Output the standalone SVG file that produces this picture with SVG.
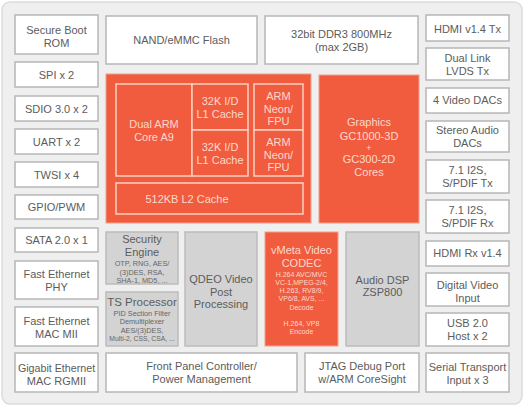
<svg xmlns="http://www.w3.org/2000/svg" width="525" height="408" viewBox="0 0 525 408">
<style>
text{font-family:"Liberation Sans",Arial,sans-serif;font-size:11px;fill:#5c5c5c;text-anchor:middle}
.w{fill:#ffffff;stroke:#b7b7b7;stroke-width:1.5}
.g{fill:#d3d3d3;stroke:#bcbcbc;stroke-width:1.5}
.o{fill:#f15c3e;stroke:#f0a08c;stroke-width:1}
.oi{fill:#f15c3e;stroke:#fbd0c2;stroke-width:1.5}
text.ot{fill:#fcd9cd}
text.s{font-size:7.3px;fill:#666}
text.os{font-size:7px;fill:#fcd9cd}
text.b{font-size:11.5px}
</style>
<rect x="2" y="2" width="520" height="402" rx="8" fill="#efefef" stroke="#dcdcdc" stroke-width="1.5"/>
<g id="connectors"/>
<g id="secure-boot"><rect class="w" x="15" y="15" width="83" height="39"/><text x="56.5" y="33.8">Secure Boot</text><text x="56.5" y="46.6">ROM</text></g>
<g id="spi"><rect class="w" x="15" y="62" width="83" height="25"/><text x="56.5" y="78.5">SPI x 2</text></g>
<g id="sdio"><rect class="w" x="15" y="96" width="83" height="25"/><text x="56.5" y="112.5">SDIO 3.0 x 2</text></g>
<g id="uart"><rect class="w" x="15" y="129" width="83" height="25"/><text x="56.5" y="145.5">UART x 2</text></g>
<g id="twsi"><rect class="w" x="15" y="162" width="83" height="25"/><text x="56.5" y="178.5">TWSI x 4</text></g>
<g id="gpio"><rect class="w" x="15" y="195" width="83" height="24"/><text x="56.5" y="211">GPIO/PWM</text></g>
<g id="sata"><rect class="w" x="15" y="228" width="83" height="24"/><text x="56.5" y="244">SATA 2.0 x 1</text></g>
<g id="fe-phy"><rect class="w" x="15" y="261" width="83" height="38"/><text x="56.5" y="278">Fast Ethernet</text><text x="56.5" y="291">PHY</text></g>
<g id="fe-mac"><rect class="w" x="15" y="307" width="83" height="39"/><text x="56.5" y="324.5">Fast Ethernet</text><text x="56.5" y="337.5">MAC MII</text></g>
<g id="gbe"><rect class="w" x="15" y="353" width="83" height="39"/><text x="56.5" y="371.5" style="font-size:10.7px">Gigabit Ethernet</text><text x="56.5" y="385">MAC RGMII</text></g>
<g id="nand"><rect class="w" x="106" y="16" width="151" height="48"/><text x="181.5" y="44">NAND/eMMC Flash</text></g>
<g id="ddr3"><rect class="w" x="265" y="16" width="153" height="48"/><text x="341.5" y="38">32bit DDR3 800MHz</text><text x="341.5" y="51">(max 2GB)</text></g>
<g id="cpu">
<rect class="o" x="106" y="74" width="205" height="149"/>
<rect class="oi" x="116" y="84" width="76" height="92"/><text class="ot" x="154" y="127.8">Dual ARM</text><text class="ot" x="154" y="140.7">Core A9</text>
<rect class="oi" x="192" y="84" width="56" height="46"/><text class="ot" x="220" y="105">32K I/D</text><text class="ot" x="220" y="118">L1 Cache</text>
<rect class="oi" x="192" y="130" width="56" height="46"/><text class="ot" x="220" y="151.3">32K I/D</text><text class="ot" x="220" y="164.2">L1 Cache</text>
<rect class="oi" x="254" y="84" width="49" height="46"/><text class="ot" x="278.5" y="99.8">ARM</text><text class="ot" x="278.5" y="112.5">Neon/</text><text class="ot" x="278.5" y="125.2">FPU</text>
<rect class="oi" x="254" y="130" width="49" height="46"/><text class="ot" x="278.5" y="145.8">ARM</text><text class="ot" x="278.5" y="158.5">Neon/</text><text class="ot" x="278.5" y="171.2">FPU</text>
<rect class="oi" x="116" y="183" width="187" height="31"/><text class="ot" x="187" y="203">512KB L2 Cache</text>
</g>
<g id="graphics"><rect class="o" x="319" y="75" width="100" height="148"/><text class="ot" x="369" y="126">Graphics</text><text class="ot" x="369" y="139.5">GC1000-3D</text><text class="ot" x="369" y="151" style="font-size:9px">+</text><text class="ot" x="369" y="163.2">GC300-2D</text><text class="ot" x="369" y="176.2">Cores</text></g>
<g id="hdmi-tx"><rect class="w" x="426" y="15" width="83" height="26"/><text x="467.5" y="33">HDMI v1.4 Tx</text></g>
<g id="lvds"><rect class="w" x="426" y="48" width="83" height="32"/><text x="467.5" y="61.8">Dual Link</text><text x="467.5" y="74.6">LVDS Tx</text></g>
<g id="vdac"><rect class="w" x="426" y="88" width="83" height="25"/><text x="467.5" y="104">4 Video DACs</text></g>
<g id="adac"><rect class="w" x="426" y="121" width="83" height="31"/><text x="467.5" y="133.8">Stereo Audio</text><text x="467.5" y="146.6">DACs</text></g>
<g id="spdif-tx"><rect class="w" x="426" y="160" width="83" height="33"/><text x="467.5" y="173.8">7.1 I2S,</text><text x="467.5" y="186.6">S/PDIF Tx</text></g>
<g id="spdif-rx"><rect class="w" x="426" y="200" width="83" height="33"/><text x="467.5" y="213.8">7.1 I2S,</text><text x="467.5" y="226.6">S/PDIF Rx</text></g>
<g id="hdmi-rx"><rect class="w" x="426" y="241" width="83" height="25"/><text x="467.5" y="257">HDMI Rx v1.4</text></g>
<g id="dvi"><rect class="w" x="426" y="273" width="83" height="33"/><text x="467.5" y="288.8">Digital Video</text><text x="467.5" y="301.6">Input</text></g>
<g id="usb"><rect class="w" x="426" y="313" width="83" height="33"/><text x="467.5" y="326.8">USB 2.0</text><text x="467.5" y="339.6">Host x 2</text></g>
<g id="sti"><rect class="w" x="426" y="353" width="83" height="39"/><text x="467.5" y="371">Serial Transport</text><text x="467.5" y="384">Input x 3</text></g>
<g id="security"><rect class="g" x="106" y="232" width="72" height="52"/><text x="142" y="242.8">Security</text><text x="142" y="255.6">Engine</text><text class="s" x="142" y="266">OTP, RNG, AES/</text><text class="s" x="142" y="274.5">(3)DES, RSA,</text><text class="s" x="142" y="283">SHA-1, MD5, ...</text></g>
<g id="ts"><rect class="g" x="106" y="292" width="72" height="54"/><text class="b" x="142" y="305.5">TS Processor</text><text class="s" x="142" y="315.8">PID Section Filter</text><text class="s" x="142" y="324.3">Demultiplexer</text><text class="s" x="142" y="332.8">AES/(3)DES,</text><text class="s" x="142" y="341.3" style="font-size:6.8px">Multi-2, CSS, CSA, ...</text></g>
<g id="qdeo"><rect class="g" x="185" y="232" width="72" height="114"/><text x="221" y="283">QDEO Video</text><text x="221" y="295.7">Post</text><text x="221" y="308.4">Processing</text></g>
<g id="vmeta"><rect class="o" x="265" y="232" width="73" height="114"/><text class="ot" x="301.5" y="254">vMeta Video</text><text class="ot" x="301.5" y="266.7">CODEC</text><text class="os" x="301.5" y="276.5">H.264 AVC/MVC</text><text class="os" x="301.5" y="284.8">VC-1,MPEG-2/4,</text><text class="os" x="301.5" y="293.1">H.263, RV8/9,</text><text class="os" x="301.5" y="301.4">VP6/8, AVS, ...</text><text class="os" x="301.5" y="309.7">Decode</text><text class="os" x="301.5" y="325.5">H.264, VP8</text><text class="os" x="301.5" y="334">Encode</text></g>
<g id="audio-dsp"><rect class="g" x="346" y="232" width="73" height="114"/><text x="382.5" y="283.6">Audio DSP</text><text x="382.5" y="296.4">ZSP800</text></g>
<g id="front-panel"><rect class="w" x="106" y="353" width="191" height="39"/><text x="201.5" y="370.3">Front Panel Controller/</text><text x="201.5" y="383.1">Power Management</text></g>
<g id="jtag"><rect class="w" x="305" y="353" width="114" height="39"/><text x="362" y="370.3">JTAG Debug Port</text><text x="362" y="383.1">w/ARM CoreSight</text></g>
</svg>
